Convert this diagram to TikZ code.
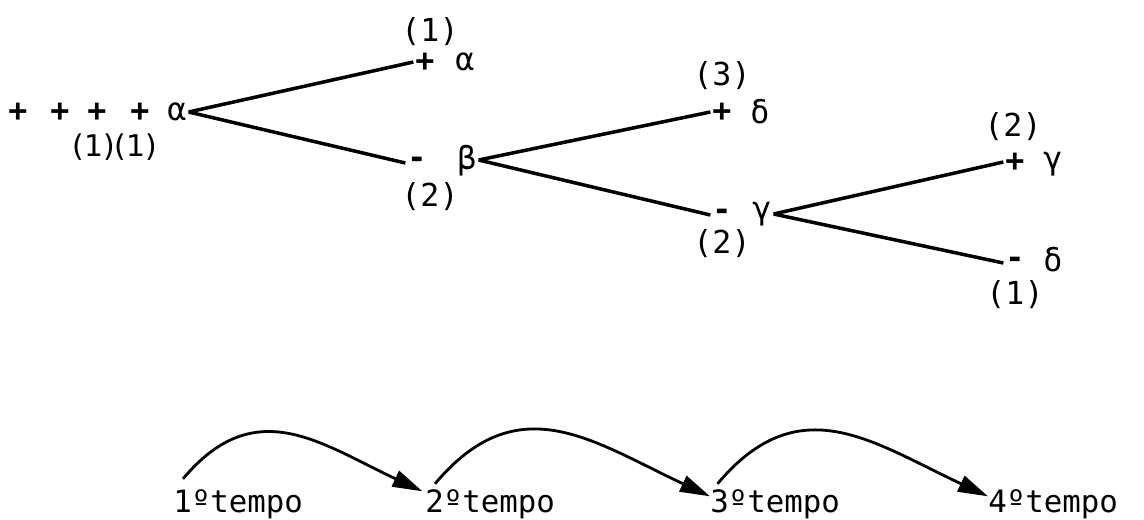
\documentclass[tikz,border=0pt]{standalone}
\usepackage{fontspec}
\setmainfont{DejaVu Sans}
\setmonofont{DejaVu Sans Mono}
\usetikzlibrary{arrows.meta,positioning}

\begin{document}
\begin{tikzpicture}[
    sym/.style={inner sep=1pt, font=\ttfamily\fontsize{18}{20}\selectfont},
    sinal/.style={inner sep=1pt, font=\ttfamily\bfseries\fontsize{18}{20}\selectfont},
    num/.style={inner sep=1pt, font=\ttfamily\fontsize{18}{20}\selectfont},
    ramo/.style={line width=2pt},
    tempo/.style={anchor=base west, inner sep=0pt, font=\ttfamily\fontsize{17.5}{20}\selectfont},
    seta/.style={-{Triangle[length=6mm,width=3.4mm]}, line width=1.6pt, out=50, in=155, looseness=1.2}
]
\useasboundingbox (0,0) rectangle (22.88,10.38);

\node[sinal] (r1) at (0.36,8.14) {+};
\node[sinal] (r2) at (1.20,8.14) {+};
\node[sinal] (r3) at (1.94,8.14) {+};
\node[sinal] (r4) at (2.80,8.14) {+};
\node[sym] (rA) at (3.54,8.14) {α};
\node[num, font=\rmfamily\fontsize{17}{20}\selectfont] (n0) at (2.30,7.44) {(1)(1)};

\node[sinal] (s1) at (8.50,9.14) {+};
\node[sym] (g1) at (9.30,9.14) {α};
\node[num] (n1) at (8.60,9.74) {(1)};

\node[sinal] (s2) at (8.34,7.12) {-};
\node[sym] (g2) at (9.34,7.18) {β};
\node[num] (n2) at (8.60,6.44) {(2)};

\node[sinal] (s3) at (14.44,8.14) {+};
\node[sym] (g3) at (15.20,8.14) {δ};
\node[num] (n3) at (14.44,8.86) {(3)};

\node[sinal] (s4) at (14.44,6.08) {-};
\node[sym] (g4) at (15.24,6.10) {γ};
\node[num] (n4) at (14.44,5.50) {(2)};

\node[sinal] (s5) at (20.30,7.14) {+};
\node[sym] (g5) at (21.06,7.10) {γ};
\node[num] (n5) at (20.26,7.84) {(2)};

\node[sinal] (s6) at (20.30,5.12) {-};
\node[sym] (g6) at (21.06,5.18) {δ};
\node[num] (n6) at (20.30,4.48) {(1)};

\draw[ramo] (rA.east) -- (s1.west);
\draw[ramo] (rA.east) -- (s2.west);
\draw[ramo] (g2.east) -- (s3.west);
\draw[ramo] (g2.east) -- (s4.west);
\draw[ramo] (g4.east) -- (s5.west);
\draw[ramo] (g4.east) -- (s6.west);

\node[tempo] (t1) at (3.46,0.14) {1ºtempo};
\node[tempo] (t2) at (8.50,0.14) {2ºtempo};
\node[tempo] (t3) at (14.20,0.14) {3ºtempo};
\node[tempo] (t4) at (19.76,0.14) {4ºtempo};

\draw[seta] ([xshift=2mm,yshift=2mm]t1.north west) to ([xshift=-0.5mm,yshift=-0.5mm]t2.north west);
\draw[seta] ([xshift=2mm,yshift=1mm]t2.north west) to ([yshift=-1.5mm]t3.north west);
\draw[seta] ([xshift=1.5mm,yshift=1mm]t3.north west) to ([yshift=-1.5mm]t4.north west);
\end{tikzpicture}
\end{document}
